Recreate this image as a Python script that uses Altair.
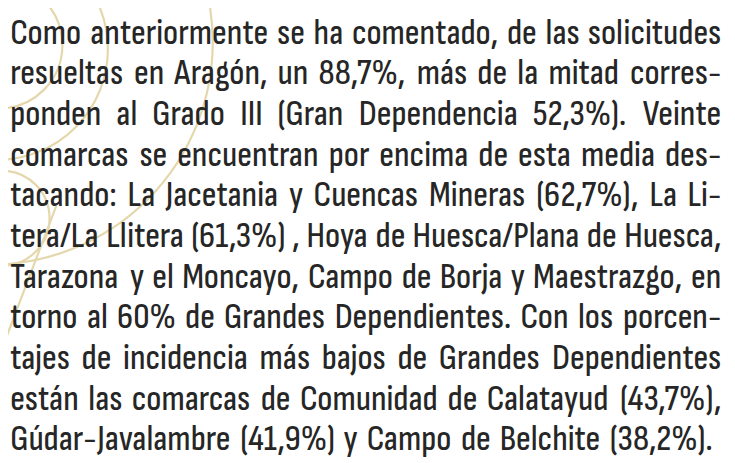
import altair as alt
import pandas as pd
import glob, os

# ---------------- text content (one entry per printed line) ----------------
lines = [
    "Como anteriormente se ha comentado, de las solicitudes",
    "resueltas en Aragón, un 88,7%, más de la mitad corres-",
    "ponden al Grado III (Gran Dependencia 52,3%). Veinte",
    "comarcas se encuentran por encima de esta media des-",
    "tacando: La Jacetania y Cuencas Mineras (62,7%), La Li-",
    "tera/La Llitera (61,3%) , Hoya de Huesca/Plana de Huesca,",
    "Tarazona y el Moncayo, Campo de Borja y Maestrazgo, en",
    "torno al 60% de Grandes Dependientes. Con los porcen-",
    "tajes de incidencia más bajos de Grandes Dependientes",
    "están las comarcas de Comunidad de Calatayud (43,7%),",
    "Gúdar-Javalambre (41,9%) y Campo de Belchite (38,2%).",
]

# decorative background circles (centre x, centre y, radius) in page pixels
circle_cx = [-1, -3, -10, 2]
circle_cy = [43, 47, 40, 218]
circle_r = [64, 112, 225, 48]
# decorative stroke (page pixels)
stroke_x = [57]
stroke_y = [205]
stroke_x2 = [0]
stroke_y2 = [355]

# ---------------- layout parameters ----------------
OFF = 8                      # page margin
FAMILY = "Sofia Sans Condensed"
FONT = FAMILY + ", PT Sans Narrow, Roboto Condensed, sans-serif"
WEIGHT = 500
CAP_PX = 23.8                # cap height seen in the reference
LEFT = 10.2 - OFF
RIGHT = 729.2 - OFF
LAST_RIGHT = 720.5 - OFF     # the closing line stops a little short
BASE0 = 41.7 - OFF
LEAD = 41.1
TEXT_COLOR = "#262626"
DECOR_COLOR = "#e4d7ab"

# ---------------- font metrics (measured from the installed font) ----------------
adv = None
try:
    from fontTools.ttLib import TTFont
    files = []
    for root in ["/usr/share/fonts", "/usr/local/share/fonts",
                 os.path.expanduser("~/.fonts"), os.path.expanduser("~/.local/share/fonts")]:
        files += glob.glob(os.path.join(root, "**", "*"), recursive=True)
    path = None
    for f in sorted(files):
        b = os.path.basename(f)
        if not os.path.isfile(f) or "Italic" in b or not b.lower().endswith((".ttf", ".otf")):
            continue
        if "Sofia" not in b:
            continue
        ft = TTFont(f, lazy=True)
        fam = ft["name"].getDebugName(16) or ft["name"].getDebugName(1)
        if fam == FAMILY:
            path = f
            break
    if path:
        ft = TTFont(path)
        if "fvar" in ft:
            axes = {a.axisTag: a.defaultValue for a in ft["fvar"].axes}
            if "wght" in axes and axes["wght"] != WEIGHT:
                from fontTools.varLib import instancer
                ft = instancer.instantiateVariableFont(ft, {"wght": WEIGHT})
        upem = ft["head"].unitsPerEm
        cmap = ft.getBestCmap()
        metrics = ft["hmtx"].metrics
        cap_ratio = getattr(ft["OS/2"], "sCapHeight", 0.7 * upem) / upem

        def adv(ch):
            g = cmap.get(ord(ch))
            return metrics[g][0] / upem if g in metrics else 0.5
except Exception:
    adv = None

if adv is None:
    cap_ratio = 0.716
    _W = {' ': 278, ',': 278, '.': 278, ':': 278, '(': 333, ')': 333, '%': 889, '/': 278, '-': 333}

    def adv(ch):
        return 0.82 * _W.get(ch, 556) / 1000.0


def width_em(s):
    return sum(adv(c) for c in s)


FONT_SIZE = CAP_PX / cap_ratio
widest = max(width_em(l) for l in lines[:-1])
FONT_SIZE = min(FONT_SIZE, (RIGHT - LEFT) * 0.99 / widest)

rows = []
for i, line in enumerate(lines):
    words = line.split(" ")
    ws = [width_em(w) * FONT_SIZE for w in words]
    last = i == len(lines) - 1
    end = LAST_RIGHT if last else RIGHT
    gap = (end - LEFT - sum(ws)) / (len(words) - 1)
    x = LEFT
    for j, (w, wd) in enumerate(zip(words, ws)):
        right = j == len(words) - 1
        rows.append({"word": w, "x": end if right else x,
                     "y": BASE0 + LEAD * i, "right": right})
        x += wd + gap

df = pd.DataFrame(rows)

circ = pd.DataFrame({
    "cx": [c - OFF for c in circle_cx],
    "cy": [c - OFF for c in circle_cy],
    "s": [(2 * r) ** 2 for r in circle_r],
})
strokes = pd.DataFrame({
    "x": [v - OFF for v in stroke_x], "y": [v - OFF for v in stroke_y],
    "x2": [v - OFF for v in stroke_x2], "y2": [v - OFF for v in stroke_y2],
})

circles = alt.Chart(circ).mark_point(
    shape="circle", filled=False, stroke=DECOR_COLOR, strokeWidth=2.2, opacity=1
).encode(
    x=alt.X("cx:Q", scale=None, axis=None),
    y=alt.Y("cy:Q", scale=None, axis=None),
    size=alt.Size("s:Q", scale=None, legend=None),
)

stroke_mark = alt.Chart(strokes).mark_rule(
    stroke=DECOR_COLOR, strokeWidth=2.2
).encode(
    x=alt.X("x:Q", scale=None, axis=None),
    y=alt.Y("y:Q", scale=None, axis=None),
    x2="x2:Q",
    y2="y2:Q",
)

base_text = alt.Chart(df)
left_words = base_text.transform_filter("!datum.right").mark_text(
    align="left", baseline="alphabetic", font=FONT, fontSize=FONT_SIZE,
    fontWeight=WEIGHT, color=TEXT_COLOR
).encode(
    x=alt.X("x:Q", scale=None, axis=None),
    y=alt.Y("y:Q", scale=None, axis=None),
    text="word:N",
)
right_words = base_text.transform_filter("datum.right").mark_text(
    align="right", baseline="alphabetic", font=FONT, fontSize=FONT_SIZE,
    fontWeight=WEIGHT, color=TEXT_COLOR
).encode(
    x=alt.X("x:Q", scale=None, axis=None),
    y=alt.Y("y:Q", scale=None, axis=None),
    text="word:N",
)

chart = alt.layer(circles, stroke_mark, left_words, right_words).properties(
    width=727, height=455, padding=0, autosize="none", background="white"
).configure_view(stroke=None)

chart.save("out.html", embed_options={"renderer": "svg", "actions": False})
